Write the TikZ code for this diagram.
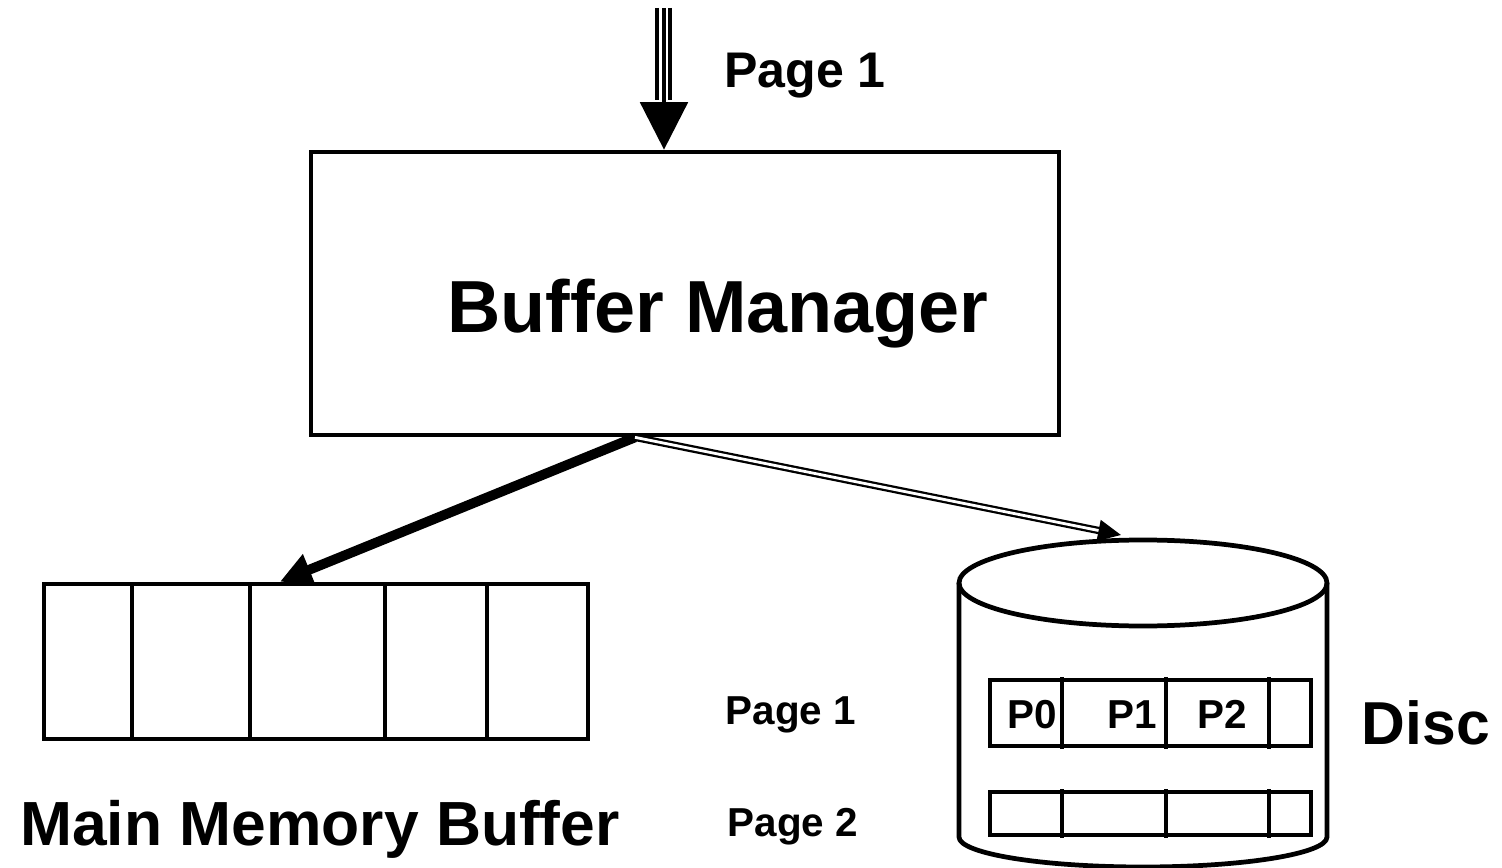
\documentclass[tikz,border=0pt]{standalone}
\usepackage{fontspec}
\setmainfont{Liberation Sans}
\usepackage{tikz}
\usetikzlibrary{arrows.meta}

\begin{document}
\begin{tikzpicture}[x=0.02cm, y=-0.02cm, line width=2.7pt,
    lbl/.style={anchor=base, inner sep=0pt, font=\bfseries},
    cellbox/.style={draw, rectangle, inner sep=0pt}]
            \useasboundingbox (0,0) rectangle (1502,868);

            % The manager
            \node[cellbox, minimum width=14.96cm, minimum height=5.66cm] (bm) at (685,293.5) {};
            \node[lbl] (bmtext) at (718,333) {\fontsize{42}{48}\selectfont Buffer Manager};

            % incoming request
            \coordinate (in) at (664,8);
            \draw[line width=2.1pt, -{Triangle[length=27pt,width=27pt]}] (in) -- (in |- bm.north);
            \foreach \s in {-0.14,0.12}
                \draw[line width=1.9pt] ([xshift=\s cm]in) -- ([xshift=\s cm]664,100);
            \node[lbl] (req) at (805,88) {\fontsize{28.5}{32}\selectfont Page 1};

            % main memory buffer
            \node[cellbox, minimum width=10.88cm, minimum height=3.1cm] (mem) at (316,661.5) {};
            \foreach \x in {132,250,385,487}
                \draw (\x,584) -- (\x,739);
            \node[lbl] (memtext) at (320,845) {\fontsize{35.5}{40}\selectfont Main Memory Buffer};

            %% the disc
            \draw (1143,583) ellipse [x radius=184, y radius=43];
            \draw (959,583) -- (959,837) arc[start angle=180, end angle=0, x radius=184, y radius=30] -- (1327,583);
            \coordinate (disc) at (1121,535);

            % pages on the disc
            \draw[line width=2.5pt] (990,680) rectangle (1311,746);
            \draw[line width=2.5pt] (990,792) rectangle (1311,835);
            \foreach \x in {1062,1166,1269} {
                \draw[line width=2.5pt] (\x,677) -- (\x,749);
                \draw[line width=2.5pt] (\x,789) -- (\x,838);
            }
            \node[lbl] (p0) at (1032,728) {\fontsize{23}{26}\selectfont P0};
            \node[lbl] (p1) at (1132,728) {\fontsize{23}{26}\selectfont P1};
            \node[lbl] (p2) at (1222,728) {\fontsize{23}{26}\selectfont P2};
            \node[lbl] (disctext) at (1426,744) {\fontsize{34.5}{40}\selectfont Disc};
            \node[lbl] (pg1) at (791,724) {\fontsize{23}{26}\selectfont Page 1};
            \node[lbl] (pg2) at (793,836) {\fontsize{23}{26}\selectfont Page 2};

            % the two paths out of the manager
            \draw[line width=5.6pt, -{Triangle[length=18pt,width=18pt]}] ([xshift=-1cm]bm.south) -- ([xshift=-0.72cm]mem.north);
            \draw[double, double distance=1.6pt, line width=1.3pt, -{Triangle[length=13pt,width=12pt]}] ([xshift=-1cm]bm.south) -- (disc);
        \end{tikzpicture}
\end{document}
